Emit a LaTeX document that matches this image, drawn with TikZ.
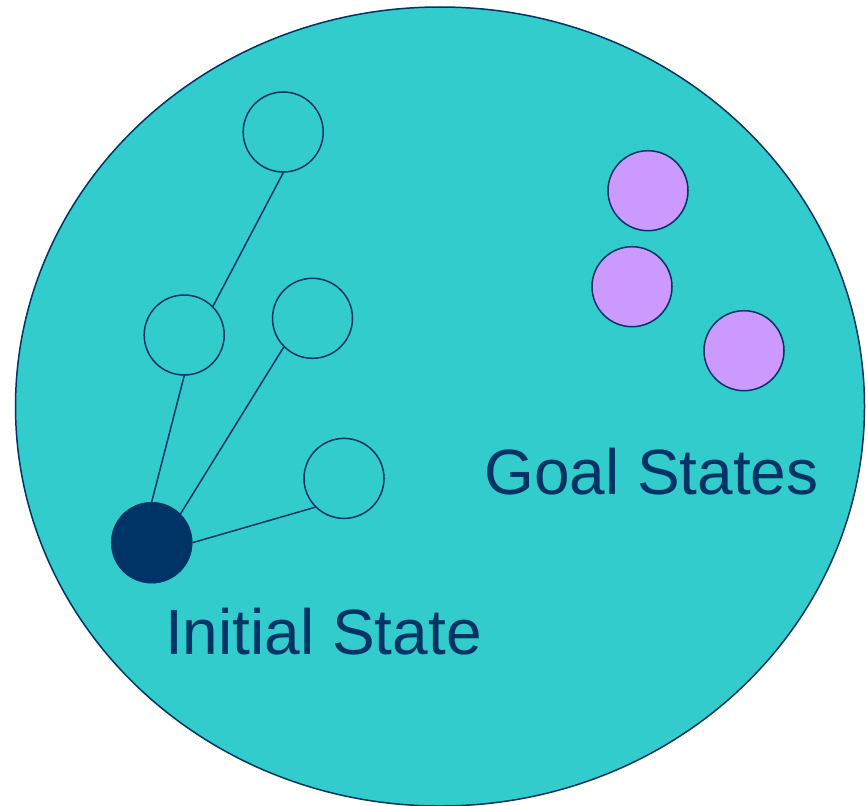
\documentclass[tikz,border=0pt]{standalone}
\usepackage{fontspec}
\setmainfont{Liberation Sans}
\usetikzlibrary{shapes.geometric}
\definecolor{tealfill}{HTML}{33CCCC}
\definecolor{navy}{HTML}{003366}
\definecolor{lav}{HTML}{CC99FF}
\tikzset{
  statenode/.style={circle, draw=navy, line width=1.5pt, minimum size=80pt, inner sep=0pt, fill=tealfill},
  goalnode/.style={statenode, fill=lav},
  initnode/.style={circle, draw=navy, fill=navy, line width=0.5pt, minimum size=81pt, inner sep=0pt},
  link/.style={draw=navy, line width=1.5pt},
  lbl/.style={text=navy, font=\fontsize{64}{70}\selectfont, inner sep=0pt, anchor=base west}
}
\begin{document}
\begin{tikzpicture}[x=1pt,y=-1pt]
\useasboundingbox (0,0) rectangle (866,805);
\node[ellipse, draw=navy, fill=tealfill, line width=1.5pt, minimum width=849pt, minimum height=799pt, inner sep=0pt] (space) at (440,406.5) {};
\node[statenode] (A) at (283.2,132) {};
\node[statenode] (B) at (184.2,335) {};
\node[statenode] (C) at (312.5,318.3) {};
\node[statenode] (D) at (344,478.4) {};
\node[initnode] (init) at (151.7,542.7) {};
\node[goalnode] (g1) at (648,190.7) {};
\node[goalnode] (g2) at (632,286.7) {};
\node[goalnode] (g3) at (744,350.7) {};
\draw[link] (init.north) -- (B.south);
\draw[link] (init.north east) -- (C.south west);
\draw[link] (init.east) -- (D.south west);
\draw[link] (B.north east) -- (A.south);
\node[lbl] (goallbl) at (484,494) {Goal States};
\node[lbl] (initlbl) at (165,654.3) {Initial State};
\end{tikzpicture}
\end{document}
